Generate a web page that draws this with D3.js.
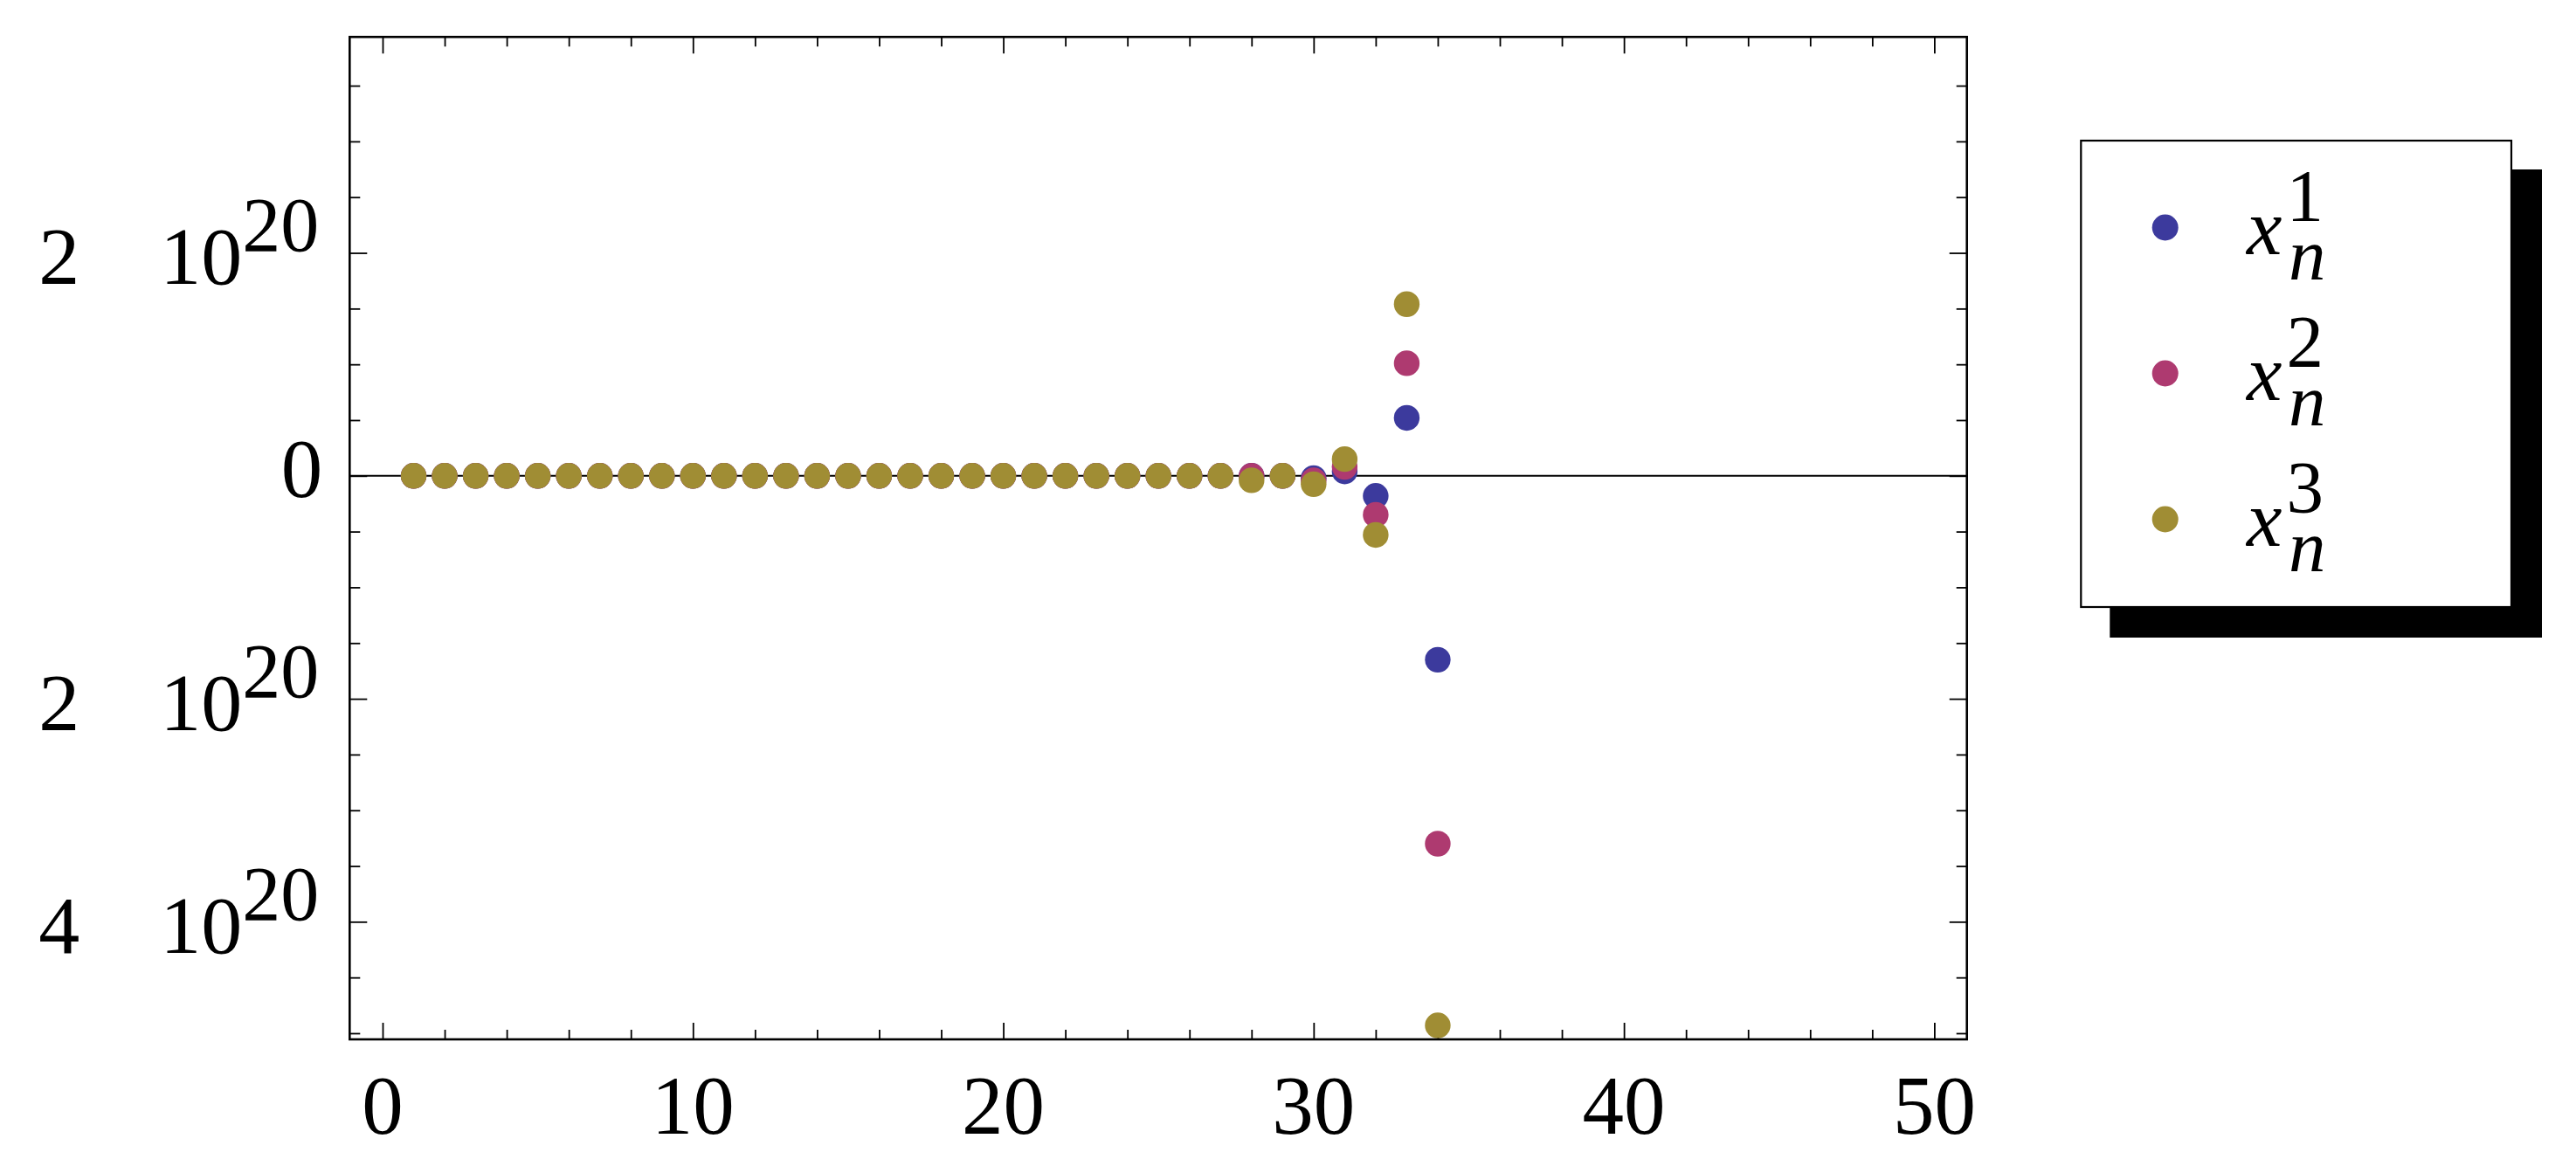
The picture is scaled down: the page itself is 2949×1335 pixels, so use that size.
<!DOCTYPE html>
<html><head><meta charset="utf-8">
<script src="https://cdn.jsdelivr.net/npm/d3@7"></script>
<style>html,body{margin:0;padding:0;background:#fff;} svg{display:block;} text{font-family:"Liberation Serif","Times New Roman",serif;}</style>
</head><body><svg id="c" width="2949" height="1335"></svg>
<script>
const nValues = [1,2,3,4,5,6,7,8,9,10,11,12,13,14,15,16,17,18,19,20,21,22,23,24,25,26,27,28,29,30,31,32,33,34];
const x1Values = [0,0,0,0,0,0,0,0,0,0,0,0,0,0,0,0,0,0,0,0,0,0,0,0,0,0,0,0,0,-2e18,4e18,-1.8e19,5.2e19,-1.65e20];
const x2Values = [0,0,0,0,0,0,0,0,0,0,0,0,0,0,0,0,0,0,0,0,0,0,0,0,0,0,0,0,0,-4e18,8e18,-3.5e19,1.01e20,-3.30e20];
const x3Values = [0,0,0,0,0,0,0,0,0,0,0,0,0,0,0,0,0,0,0,0,0,0,0,0,0,0,0,-4e18,0,-7.5e18,1.5e19,-5.3e19,1.54e20,-4.93e20];
const seriesSup = ["1","2","3"];
const seriesColors = ["#3c3a9d","#ae3a70","#a08d34"];
const xMajorTicks = [0,10,20,30,40,50];
const xTickLabels = ["0","10","20","30","40","50"];
const xMinorTicks = [2,4,6,8,12,14,16,18,22,24,26,28,32,34,36,38,42,44,46,48];
const yMajorTicks = [2e20,0,-2e20,-4e20];
const yTickMantissa = ["2","0","2","4"];
const yTickExponent = ["20","","20","20"];
const yMinorTicks = [3.5e20,3e20,2.5e20,1.5e20,1e20,0.5e20,-0.5e20,-1e20,-1.5e20,-2.5e20,-3e20,-3.5e20,-4.5e20,-5e20];

const series = [x1Values, x2Values, x3Values];
const L = 400.3, R = 2251.7, T = 42.3, B = 1190;

const svg = d3.select("#c");
const x = d3.scaleLinear().domain([-1.061, 51.05]).range([L, R]);
const y = d3.scaleLinear().domain([-5.055e20, 3.937e20]).range([B, T]);

svg.append("defs").append("clipPath").attr("id","clip")
  .append("rect").attr("x",L).attr("y",T).attr("width",R-L).attr("height",B-T);

// zero axis line
svg.append("line").attr("x1",L).attr("x2",R).attr("y1",y(0)).attr("y2",y(0))
  .attr("stroke","#000").attr("stroke-width",2);

function ax(g){ g.select(".domain").remove(); g.selectAll(".tick line").attr("stroke","#000").attr("stroke-width",1.8); g.selectAll("text").remove(); }
svg.append("g").attr("transform",`translate(0,${B})`).call(d3.axisBottom(x).tickValues(xMajorTicks).tickSize(-19)).call(ax);
svg.append("g").attr("transform",`translate(0,${B})`).call(d3.axisBottom(x).tickValues(xMinorTicks).tickSize(-11)).call(ax);
svg.append("g").attr("transform",`translate(0,${T})`).call(d3.axisTop(x).tickValues(xMajorTicks).tickSize(-19)).call(ax);
svg.append("g").attr("transform",`translate(0,${T})`).call(d3.axisTop(x).tickValues(xMinorTicks).tickSize(-11)).call(ax);
svg.append("g").attr("transform",`translate(${L},0)`).call(d3.axisLeft(y).tickValues(yMajorTicks).tickSize(-20)).call(ax);
svg.append("g").attr("transform",`translate(${L},0)`).call(d3.axisLeft(y).tickValues(yMinorTicks).tickSize(-12)).call(ax);
svg.append("g").attr("transform",`translate(${R},0)`).call(d3.axisRight(y).tickValues(yMajorTicks).tickSize(-20)).call(ax);
svg.append("g").attr("transform",`translate(${R},0)`).call(d3.axisRight(y).tickValues(yMinorTicks).tickSize(-12)).call(ax);

// points
const pts = svg.append("g").attr("clip-path","url(#clip)");
series.forEach((vals,i)=>{
  pts.selectAll(null).data(nValues.map((n,k)=>({n, v:vals[k]}))).enter()
    .append("circle").attr("cx",d=>x(d.n)).attr("cy",d=>y(d.v)).attr("r",14.7)
    .attr("fill",seriesColors[i]);
});

// frame
svg.append("rect").attr("x",L).attr("y",T).attr("width",R-L).attr("height",B-T)
  .attr("fill","none").attr("stroke","#000").attr("stroke-width",2.6);

// x labels
svg.append("g").selectAll("text").data(xMajorTicks).enter().append("text")
  .attr("x",d=>x(d)).attr("y",B+108).attr("text-anchor","middle")
  .attr("font-size",95).text((d,i)=>xTickLabels[i]);

// y labels
yMajorTicks.forEach((t,i)=>{
  if (yTickExponent[i] === "") {
    svg.append("text").attr("x",L-31).attr("y",y(t)+24).attr("text-anchor","end")
      .attr("font-size",95).text(yTickMantissa[i]);
  } else {
    const tx = svg.append("text").attr("x",L-35).attr("y",y(t)+35.5).attr("text-anchor","end")
      .attr("font-size",94);
    tx.append("tspan").text(yTickMantissa[i]);
    tx.append("tspan").attr("dx",92).text("10");
    tx.append("tspan").attr("dy",-37.7).attr("font-size",88).text(yTickExponent[i]);
  }
});

// legend
const lx = 2382.3, ly = 161, lw = 492.7, lh = 534, sh = 34;
svg.append("rect").attr("x",lx+sh-1).attr("y",ly+sh-1).attr("width",lw+2).attr("height",lh+2).attr("fill","#000");
svg.append("rect").attr("x",lx).attr("y",ly).attr("width",lw).attr("height",lh)
  .attr("fill","#fff").attr("stroke","#000").attr("stroke-width",2.2);
seriesSup.forEach((s,i)=>{
  const cy = 260.5 + 167*i;
  svg.append("circle").attr("cx",2478.7).attr("cy",cy).attr("r",15).attr("fill",seriesColors[i]);
  const t = svg.append("text").attr("x",2572).attr("y",cy+30.5);
  t.append("tspan").attr("font-style","italic").attr("font-size",91).text("x");
  t.append("tspan").attr("dx",5).attr("dy",-38.5).attr("font-size",85).text(s);
  t.append("tspan").attr("dx",-40).attr("dy",67.5).attr("font-style","italic").attr("font-size",85).text("n");
});
</script></body></html>
